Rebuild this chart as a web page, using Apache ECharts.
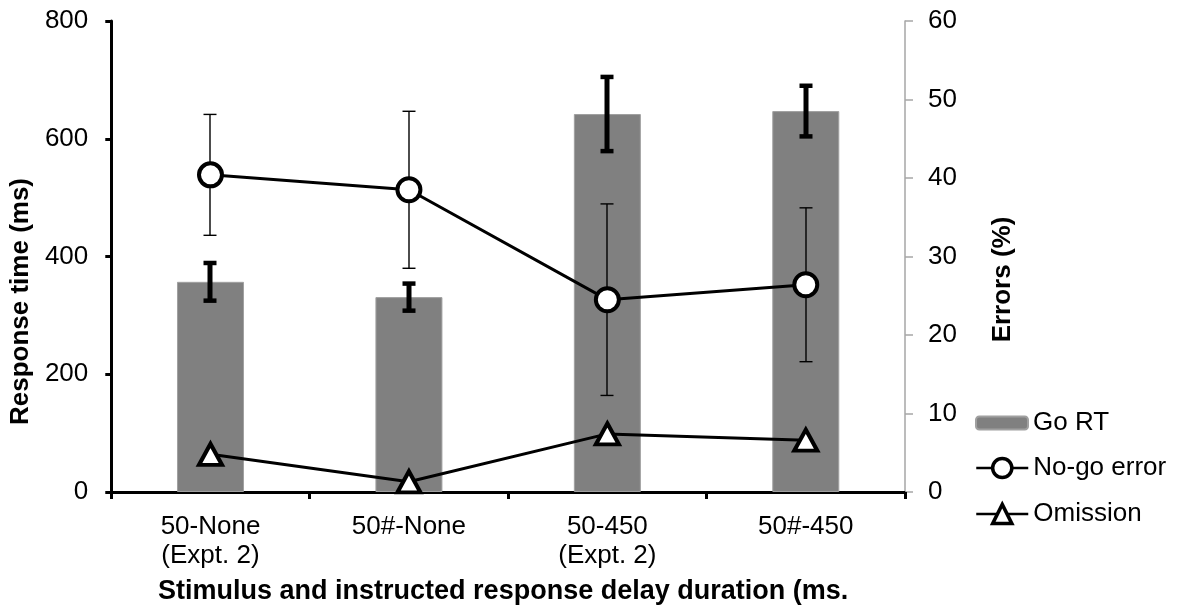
<!DOCTYPE html>
<html>
<head>
<meta charset="utf-8">
<script src="https://cdn.jsdelivr.net/npm/echarts@6/dist/echarts.min.js"></script>
<style>
  html, body { margin: 0; padding: 0; background: #fff; }
  #chart { width: 1177px; height: 610px; }
</style>
</head>
<body>
<div id="chart"></div>
<script>
// Conditions on the x axis
const categories = ['50-None\n(Expt. 2)', '50#-None', '50-450\n(Expt. 2)', '50#-450'];

// Go response time (ms), left axis
const goRT = [357, 331, 642, 647];
const goRTErr = [32, 23, 63, 43];

// Error rates (%), right axis
const noGoError = [40.4, 38.5, 24.5, 26.4];
const noGoErrorErr = [7.7, 10, 12.2, 9.8];
const omission = [4.8, 1.3, 7.4, 6.6];

// Axis ticks
const rtTicks = { min: 0, max: 800, interval: 200 };
const errTicks = { min: 0, max: 60, interval: 10 };

const FONT = "'Liberation Sans', Arial, sans-serif";

function errorRange(values, errs) {
  return values.map((v, i) => [i, v - errs[i], v + errs[i]]);
}

// Draws a vertical error bar with caps
function makeErrorRenderer(stemWidth, capWidth, capThick) {
  return function (params, api) {
    const x = api.value(0);
    const lo = api.coord([x, api.value(1)]);
    const hi = api.coord([x, api.value(2)]);
    const cx = Math.round(lo[0]);
    const children = [
      { type: 'rect', shape: { x: cx - stemWidth / 2, y: hi[1], width: stemWidth, height: lo[1] - hi[1] }, style: { fill: '#000' } },
      { type: 'rect', shape: { x: cx - capWidth / 2, y: hi[1] - capThick / 2, width: capWidth, height: capThick }, style: { fill: '#000' } },
      { type: 'rect', shape: { x: cx - capWidth / 2, y: lo[1] - capThick / 2, width: capWidth, height: capThick }, style: { fill: '#000' } }
    ];
    return { type: 'group', children: children };
  };
}

const chart = echarts.init(document.getElementById('chart'), null, { renderer: 'canvas' });

const legendText = { fontFamily: FONT, fontSize: 26, color: '#000' };
const markerStyle = { color: '#fff', borderColor: '#000', borderWidth: 4 };

chart.setOption({
  animation: false,
  backgroundColor: '#fff',
  textStyle: { fontFamily: FONT },
  grid: { left: 105, right: 272, top: 21, bottom: 118, containLabel: false },
  legend: [
    {
      data: ['Go RT'], left: 975, top: 410, padding: 0, itemWidth: 52, itemHeight: 13,
      textStyle: legendText, selectedMode: false
    },
    {
      data: ['No-go error'], left: 975, top: 455, padding: 0, itemWidth: 52, itemHeight: 24,
      textStyle: legendText, selectedMode: false,
      itemStyle: { borderWidth: 3.5 }, lineStyle: { width: 2.5 }
    },
    {
      data: ['Omission'], left: 975, top: 501, padding: 0, itemWidth: 52, itemHeight: 24,
      textStyle: legendText, selectedMode: false,
      itemStyle: { borderWidth: 3.5 }, lineStyle: { width: 2.5 }
    }
  ],
  xAxis: {
    type: 'category',
    data: categories,
    boundaryGap: true,
    axisLine: { lineStyle: { color: '#000', width: 3 } },
    axisTick: { show: true, length: 7, lineStyle: { color: '#000', width: 3 } },
    axisLabel: { fontFamily: FONT, fontSize: 26, color: '#000', margin: 20, lineHeight: 29 },
    name: 'Stimulus and instructed response delay duration (ms.',
    nameLocation: 'middle',
    nameGap: 86,
    nameTextStyle: { fontFamily: FONT, fontSize: 27, fontWeight: 'bold', color: '#000', padding: [0, 10, 0, 0] }
  },
  yAxis: [
    {
      type: 'value',
      min: rtTicks.min, max: rtTicks.max, interval: rtTicks.interval,
      splitLine: { show: false },
      axisLine: { show: true, lineStyle: { color: '#000', width: 3 } },
      axisTick: { show: true, length: 6, lineStyle: { color: '#000', width: 3 } },
      axisLabel: { fontFamily: FONT, fontSize: 26, color: '#000', margin: 23 },
      name: 'Response time (ms)',
      nameLocation: 'middle',
      nameRotate: 90,
      nameGap: 66,
      nameTextStyle: { fontFamily: FONT, fontSize: 26, fontWeight: 'bold', color: '#000', padding: [0, 90, 0, 0] }
    },
    {
      type: 'value',
      position: 'right',
      min: errTicks.min, max: errTicks.max, interval: errTicks.interval,
      splitLine: { show: false },
      axisLine: { show: true, lineStyle: { color: '#a6a6a6', width: 1.5 } },
      axisTick: { show: true, length: 8, lineStyle: { color: '#a6a6a6', width: 1.5 } },
      axisLabel: { fontFamily: FONT, fontSize: 26, color: '#000', margin: 23 },
      name: 'Errors (%)',
      nameLocation: 'middle',
      nameRotate: 90,
      nameGap: 85,
      nameTextStyle: { fontFamily: FONT, fontSize: 26, fontWeight: 'bold', color: '#000', padding: [0, 46, 0, 0] }
    }
  ],
  series: [
    {
      name: 'Go RT',
      type: 'bar',
      yAxisIndex: 0,
      data: goRT,
      barWidth: 67,
      itemStyle: { color: '#808080', borderColor: '#a0a0a0', borderWidth: 1 },
      z: 2
    },
    {
      name: 'Go RT error',
      type: 'custom',
      yAxisIndex: 0,
      data: errorRange(goRT, goRTErr),
      encode: { x: 0, y: [1, 2] },
      renderItem: makeErrorRenderer(5, 13, 4.5),
      z: 3,
      silent: true
    },
    {
      name: 'No-go error range',
      type: 'custom',
      yAxisIndex: 1,
      data: errorRange(noGoError, noGoErrorErr),
      encode: { x: 0, y: [1, 2] },
      renderItem: makeErrorRenderer(1.4, 13, 1.4),
      z: 3,
      silent: true
    },
    {
      name: 'No-go error',
      type: 'line',
      yAxisIndex: 1,
      data: noGoError,
      symbol: 'circle',
      symbolSize: 23,
      showAllSymbol: true,
      lineStyle: { color: '#000', width: 3 },
      itemStyle: markerStyle,
      z: 5
    },
    {
      name: 'Omission',
      type: 'line',
      yAxisIndex: 1,
      data: omission,
      symbol: 'triangle',
      symbolSize: [23, 21],
      showAllSymbol: true,
      lineStyle: { color: '#000', width: 3 },
      itemStyle: markerStyle,
      z: 5
    }
  ]
});
</script>
</body>
</html>
